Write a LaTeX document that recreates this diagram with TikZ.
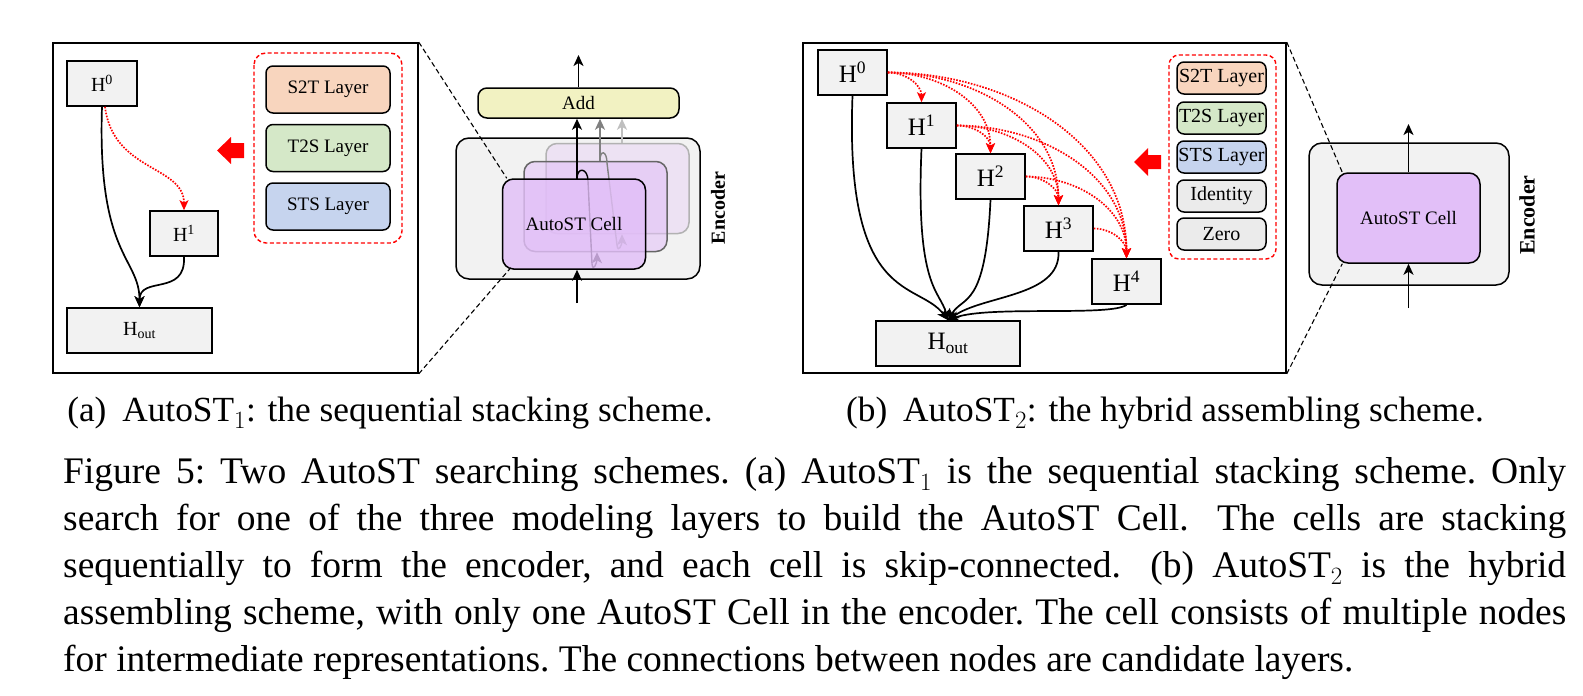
\documentclass[tikz,border=0pt]{standalone}
\usepackage{fontspec}
\setmainfont{Liberation Serif}
\usetikzlibrary{arrows.meta}
\definecolor{boxgray}{HTML}{F2F2F2}
\definecolor{sttcol}{HTML}{F8D5BE}
\definecolor{tscol}{HTML}{D5E8C8}
\definecolor{stscol}{HTML}{C6D4EE}
\definecolor{idcol}{HTML}{EBEBEB}
\definecolor{addcol}{HTML}{F2F2C2}
\definecolor{cellcol}{HTML}{E2BFF8}
\tikzset{
  hnode/.style={draw, line width=1.6pt, fill=boxgray, inner sep=0pt, minimum height=45pt},
  layerbox/.style={draw, line width=1.5pt, rounded corners=7pt, inner sep=0pt},
  cellbox/.style={draw, line width=1.5pt, rounded corners=11pt, fill=cellcol, inner sep=0pt,
    minimum width=143pt, minimum height=90pt, font=\fontsize{19}{22}\selectfont},
  encbox/.style={draw, line width=1.5pt, rounded corners=13pt, fill=boxgray, inner sep=0pt},
  searchbox/.style={draw=red, line width=1.4pt, rounded corners=12pt, dash pattern=on 4pt off 2.5pt},
  searcharrow/.style={red, line width=1.7pt, dash pattern=on 1.6pt off 1.4pt, -{Stealth[length=10pt,width=9pt,inset=2.5pt]}},
  flowarrow/.style={line width=1.7pt, -{Stealth[length=11pt,width=10pt,inset=3pt]}},
  zoomline/.style={line width=1.1pt, dash pattern=on 5pt off 3pt},
  caplabel/.style={inner sep=0pt, font=\fontsize{35.3}{42}\selectfont}
}
\begin{document}
\begin{tikzpicture}[x=1pt,y=-1pt]
\path[fill=white] (0,0) rectangle (1583,696);
\useasboundingbox (0,0) rectangle (1583,696);

% (a) sequential stacking
\node[draw, line width=1.6pt, minimum width=365pt, minimum height=330pt, inner sep=0pt] (frameA) at (235.5,208) {};
\node[hnode, minimum width=70pt, font=\fontsize{20}{24}\selectfont] (ha0) at (102,83.5) {H\textsuperscript{0}};
\node[hnode, minimum width=68pt, font=\fontsize{20}{24}\selectfont] (ha1) at (184,233.5) {H\textsuperscript{1}};
\node[hnode, minimum width=145pt, font=\fontsize{20}{24}\selectfont] (haout) at (139.5,330.5) {H\textsubscript{out}};
\draw[searchbox] (254,53) rectangle (402,243);
\node[layerbox, fill=sttcol, minimum width=124pt, minimum height=47pt, font=\fontsize{19}{22}\selectfont] (sttA) at (328,89.5) {S2T Layer};
\node[layerbox, fill=tscol, minimum width=124pt, minimum height=47pt, font=\fontsize{19}{22}\selectfont] (tsA) at (328,148) {T2S Layer};
\node[layerbox, fill=stscol, minimum width=124pt, minimum height=47pt, font=\fontsize{19}{22}\selectfont] (stsA) at (328,206.5) {STS Layer};
\fill[red] (244,143) -- (231,143) -- (231,137) -- (217,150.5) -- (231,164) -- (231,158) -- (244,158) -- cycle;
\draw[searcharrow] ([xshift=3pt]ha0.south) .. controls +(8,65) and +(0,-45) .. (ha1.north);
\draw[flowarrow] (ha0.south) .. controls +(-5,150) and +(0,-50) .. (haout.north);
\draw[flowarrow] (ha1.south) .. controls +(2,40) and +(0,-32) .. (haout.north);

% encoder of (a)
\node[encbox, minimum width=244pt, minimum height=141pt] (encA) at (578,208.5) {};
\node[layerbox, fill=addcol, rounded corners=9pt, minimum width=201pt, minimum height=30pt, font=\fontsize{19}{22}\selectfont] (addA) at (578.5,103) {Add};
\coordinate (outA) at (578.5,55);
\coordinate (inA) at (577,303);
\coordinate (topA) at (577,179);
\node[cellbox, fill opacity=0.3, draw=black!30, text opacity=1] (cellA3) at (617.5,188.5) {};
\node[cellbox, fill opacity=0.55, draw=black!60, text opacity=1] (cellA2) at (595.5,206.5) {};
\draw[flowarrow, black!25] ([xshift=4.5pt]cellA3.north) -- ([xshift=4.5pt]cellA3.north |- addA.south);
\draw[flowarrow, black!50] ([xshift=4.5pt]cellA2.north) -- ([xshift=4.5pt]cellA2.north |- addA.south);
\draw[flowarrow, black!50, line width=1.4pt] ([xshift=4.5pt]cellA2.north) .. controls +(0,-12) and +(0,-12) .. (607,163)
  -- (617,245) .. controls +(1,9) and +(0,10) .. ([xshift=4.5pt]cellA3.south);
\draw[flowarrow, line width=1.4pt] (topA) .. controls +(0,-13) and +(0,-13) .. (588,181)
  -- (592,264) .. controls +(1,9) and +(0,10) .. ([xshift=1.5pt]cellA2.south);
\node[cellbox, fill opacity=0.82, text opacity=1] (cellA1) at (574,224) {AutoST Cell};
\draw[flowarrow] (topA) -- (topA |- addA.south);
\draw[flowarrow] (inA) -- (inA |- cellA1.south);
\draw[flowarrow] (addA.north) -- (outA);
\node[rotate=90, font=\fontsize{20}{24}\selectfont\bfseries, inner sep=0pt] (labA) at (718,208) {Encoder};
\draw[zoomline] (frameA.north east) -- ([xshift=5pt]cellA1.north west);
\draw[zoomline] (frameA.south east) -- ([shift={(9pt,2pt)}]cellA1.south west);

% (b) hybrid assembling
\node[draw, line width=1.6pt, minimum width=483pt, minimum height=330pt, inner sep=0pt] (frameB) at (1044.5,208) {};
\node[hnode, minimum width=69pt, font=\fontsize{25}{28}\selectfont] (hb0) at (852.5,72.5) {H\textsuperscript{0}};
\node[hnode, minimum width=69pt, font=\fontsize{25}{28}\selectfont] (hb1) at (921.5,125.5) {H\textsuperscript{1}};
\node[hnode, minimum width=69pt, font=\fontsize{25}{28}\selectfont] (hb2) at (990.5,176.5) {H\textsuperscript{2}};
\node[hnode, minimum width=69pt, font=\fontsize{25}{28}\selectfont] (hb3) at (1058.5,228.5) {H\textsuperscript{3}};
\node[hnode, minimum width=69pt, font=\fontsize{25}{28}\selectfont] (hb4) at (1126.5,281.5) {H\textsuperscript{4}};
\node[hnode, minimum width=144pt, font=\fontsize{25}{28}\selectfont] (hbout) at (948,343.5) {H\textsubscript{out}};
\draw[searchbox, rounded corners=10pt] (1169,55) rectangle (1276,259);
\node[layerbox, fill=sttcol, minimum width=89pt, minimum height=32pt, font=\fontsize{20}{22}\selectfont] (sttB) at (1221.5,78) {S2T Layer};
\node[layerbox, fill=tscol, minimum width=89pt, minimum height=32pt, font=\fontsize{20}{22}\selectfont] (tsB) at (1221.5,118) {T2S Layer};
\node[layerbox, fill=stscol, minimum width=89pt, minimum height=32pt, font=\fontsize{20}{22}\selectfont] (stsB) at (1221.5,157) {STS Layer};
\node[layerbox, fill=idcol, minimum width=89pt, minimum height=32pt, font=\fontsize{20}{22}\selectfont] (idB) at (1221.5,196) {Identity};
\node[layerbox, fill=idcol, minimum width=89pt, minimum height=32pt, font=\fontsize{20}{22}\selectfont] (zeroB) at (1221.5,234) {Zero};
\fill[red] (1161,155) -- (1148,155) -- (1148,148) -- (1134,162) -- (1148,176) -- (1148,169) -- (1161,169) -- cycle;
\foreach \t in {1,2,3,4}
  \draw[searcharrow] (hb0.east) to[out=0, in=90] (hb\t.north);
\foreach \t in {2,3,4}
  \draw[searcharrow] (hb1.east) to[out=0, in=90] (hb\t.north);
\foreach \t in {3,4}
  \draw[searcharrow] (hb2.east) to[out=0, in=90] (hb\t.north);
\draw[searcharrow] (hb3.east) to[out=0, in=90] (hb4.north);
\draw[flowarrow] (hb0.south) .. controls +(-8,210) and +(-30,-40) .. (hbout.north);
\draw[flowarrow] (hb1.south) .. controls +(-6,140) and +(-8,-30) .. (hbout.north);
\draw[flowarrow] (hb2.south) .. controls +(-5,110) and +(15,-25) .. (hbout.north);
\draw[flowarrow] (hb3.south) .. controls +(2,45) and +(35,-25) .. (hbout.north);
\draw[flowarrow] (hb4.south) .. controls +(-15,12) and +(40,-15) .. (hbout.north);

% encoder of (b)
\node[encbox, minimum width=200pt, minimum height=142pt] (encB) at (1409,214) {};
\node[cellbox] (cellB) at (1408.5,218) {AutoST Cell};
\coordinate (outB) at (1408.5,124);
\coordinate (inB) at (1408.5,308);
\draw[flowarrow] (inB) -- (cellB.south);
\draw[flowarrow] (cellB.north) -- (outB);
\node[rotate=90, font=\fontsize{22}{24}\selectfont\bfseries, inner sep=0pt] (labB) at (1527,215) {Encoder};
\draw[zoomline] (frameB.north east) -- ([xshift=6pt]cellB.north west);
\draw[zoomline] (frameB.south east) -- ([xshift=6pt]cellB.south west);

% captions
\node[caplabel, anchor=base] (subA) at (390,421) {(a)\hspace{0.45em}AutoST$_1$: the sequential stacking scheme.};
\node[caplabel, anchor=base] (subB) at (1165,421) {(b)\hspace{0.45em}AutoST$_2$: the hybrid assembling scheme.};
\node[inner sep=0pt, anchor=base west, text width=1503pt, align=justify,
      font=\fontsize{37.5}{47}\selectfont\frenchspacing] (figcap) at (63,483)
  {Figure 5: Two AutoST searching schemes. (a) AutoST$_1$ is the sequential stacking scheme. Only\linebreak
   search for one of the three modeling layers to build the AutoST Cell.\hspace{0.3em} The cells are stacking\linebreak
   sequentially to form the encoder, and each cell is skip-connected.\hspace{0.3em} (b) AutoST$_2$ is the hybrid\linebreak
   assembling scheme, with only one AutoST Cell in the encoder. The cell consists of multiple nodes\linebreak
   for intermediate representations. The connections between nodes are candidate layers.};
\end{tikzpicture}
\end{document}
